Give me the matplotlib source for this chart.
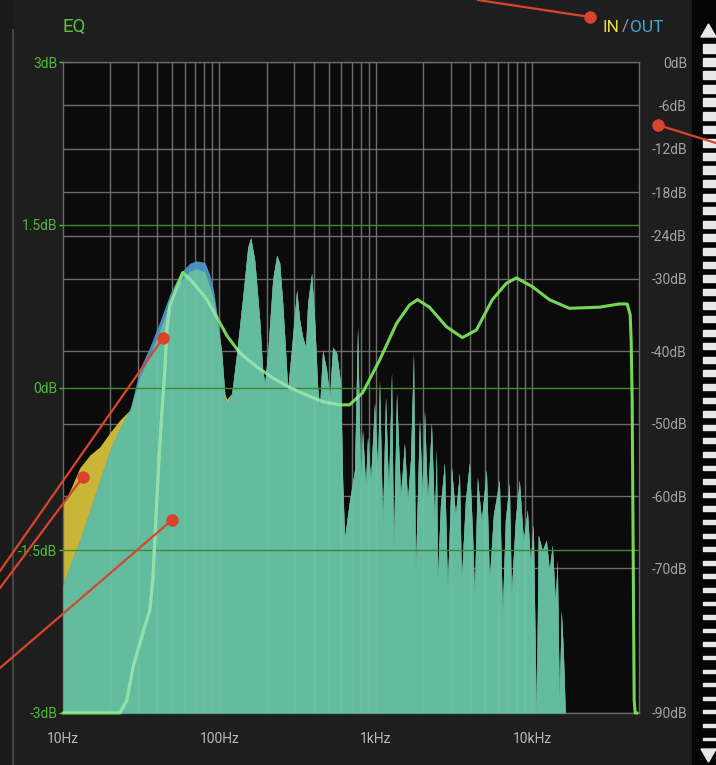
import matplotlib
matplotlib.use("Agg")
import matplotlib.pyplot as plt
import numpy as np
from matplotlib.lines import Line2D
from matplotlib.patches import Rectangle, Polygon
from matplotlib.ticker import NullLocator

# ---------------- data ----------------
spec_freq_hz = [10.0, 11.1, 12.8, 14.9, 17.2, 20.0, 23.1, 26.8, 31.0, 35.9,
                41.6, 48.2, 55.8, 64.7, 71.6, 80.6, 86.7, 92.0, 96.1, 103.4,
                108.1, 111.3, 119.8, 128.9, 140.8, 151.6, 158.4, 168.0, 180.8, 189.0,
                194.6, 203.4, 218.8, 232.1, 242.6, 253.5, 265.0, 272.9, 289.4, 311.5,
                325.5, 340.2, 355.5, 366.1, 388.2, 405.7, 424.0, 436.7, 456.3, 484.0,
                505.8, 528.5, 560.8, 594.7, 612.5, 630.6, 678.4, 730.1, 763.0, 797.4,
                821.2, 858.2, 884.0, 923.9, 979.7, 1024, 1054, 1102, 1152, 1203,
                1258, 1295, 1354, 1436, 1522, 1591, 1663, 1738, 1789, 1898,
                1983, 2043, 2135, 2263, 2366, 2436, 2473, 2584, 2741, 2864,
                3038, 3221, 3416, 3518, 3731, 3957, 4135, 4257, 4450, 4720,
                5080, 5309, 5630, 6150, 6427, 6716, 7123, 7334, 7780, 8251,
                8750, 9279, 9696, 10130, 10590, 10900, 11570, 12270, 12820, 13400,
                14000, 14420, 14850, 15290, 15750, 16220, 16500, 48000]

spec_in_db = [-61.2, -59.2, -56.1, -54.3, -53.2, -51.2, -49.5, -48.1, -43.6, -40.5,
              -37.1, -33.2, -30.4, -28.9, -28.6, -29.0, -31.1, -32.9, -35.3, -40.2,
              -45.8, -46.6, -45.8, -40.2, -32.5, -25.6, -24.3, -27.4, -35.7, -42.6,
              -44.4, -40.2, -30.1, -26.7, -27.8, -33.3, -40.2, -45.3, -39.4, -31.5,
              -35.7, -38.0, -39.4, -33.3, -29.2, -35.7, -44.9, -47.7, -39.8, -42.6,
              -46.3, -39.4, -40.2, -44.4, -57.8, -65.7, -60.6, -56.4, -36.6, -57.8,
              -50.9, -58.5, -51.8, -57.8, -47.1, -56.4, -44.0, -63.7, -46.3, -59.2,
              -43.0, -67.1, -45.8, -59.9, -52.7, -60.6, -55.0, -40.2, -70.2, -49.5,
              -59.9, -48.1, -60.6, -49.9, -63.3, -53.6, -71.6, -61.2, -55.4, -72.6,
              -56.0, -62.6, -56.8, -71.6, -60.6, -55.4, -64.7, -73.4, -57.4, -63.3,
              -56.4, -71.6, -62.6, -57.8, -76.2, -63.3, -58.2, -73.4, -63.3, -57.8,
              -66.1, -61.9, -68.9, -64.0, -90.0, -65.4, -67.5, -66.1, -70.2, -66.8,
              -74.4, -68.9, -88.2, -75.8, -81.3, -90.0, -90.0, -90.0]

# OUT differs from IN only below ~110 Hz; above that both traces coincide
spec_out_db = [-72.3, -69.5, -66.1, -61.9, -57.8, -53.6, -50.6, -48.1, -42.4, -39.4,
               -35.9, -32.1, -29.3, -27.8, -27.5, -27.7, -29.4, -31.8, -34.6, -40.2,
               -45.8, -47.3] + spec_in_db[22:]

eq_freq_hz = [10, 23.1, 25.6, 28.0, 32.4, 35.9, 37.5, 39.2, 41.0, 42.8,
              44.8, 46.1, 48.2, 52.6, 58.3, 67.5, 83.0, 96.1, 111.3, 134.8,
              173.0, 218.8, 281, 361, 456, 588, 678, 821, 1054, 1354,
              1638, 1843, 2198, 2822, 3570, 4385, 5548, 6815, 7896, 9986,
              12820, 17200, 26730, 35850, 40340, 42150, 42760, 43400, 44050, 44700,
              45370, 46700]
eq_gain_db = [-3.0, -3.0, -2.88, -2.58, -2.26, -2.05, -1.77, -1.22, -0.67, -0.24,
              0.16, 0.53, 0.76, 0.90, 1.06, 0.97, 0.81, 0.65, 0.48, 0.32,
              0.19, 0.09, 0.00, -0.07, -0.13, -0.16, -0.16, -0.05, 0.25, 0.59,
              0.76, 0.81, 0.74, 0.56, 0.46, 0.53, 0.81, 0.96, 1.01, 0.93,
              0.81, 0.73, 0.74, 0.77, 0.77, 0.67, 0.44, -0.12, -1.50, -2.88,
              -3.0, -3.0]

level_ticks_db = [0, -6, -12, -18, -24, -30, -40, -50, -60, -70, -90]
level_tick_labels = ["0dB", "-6dB", "-12dB", "-18dB", "-24dB", "-30dB",
                     "-40dB", "-50dB", "-60dB", "-70dB", "-90dB"]
eq_ticks_db = [3, 1.5, 0, -1.5, -3]
eq_tick_labels = ["3dB", "1.5dB", "0dB", "-1.5dB", "-3dB"]
freq_ticks_hz = [10, 100, 1000, 10000]
freq_tick_labels = ["10Hz", "100Hz", "1kHz", "10kHz"]
grid_freq_hz = [20, 30, 40, 50, 60, 70, 80, 90, 100,
                200, 300, 400, 500, 600, 700, 800, 900, 1000,
                2000, 3000, 4000, 5000, 6000, 7000, 8000, 9000, 10000]

# ---------------- style ----------------
plt.rcParams['font.family'] = ['Roboto', 'DejaVu Sans']
BG = '#1e1e1e'
PLOT_BG = '#0b0b0b'
GRID = '#646464'
GREEN_LBL = '#4fb83a'
YELLOW = '#c9b636'
BLUE = '#4a8dbf'
TEAL = '#64bc9f'
EQ_LINE = '#7fe85c'
EQ_ON_FILL = '#92dfb2'
RED = '#d8452c'

W, H = 716, 765
fig = plt.figure(figsize=(W / 100, H / 100), dpi=100, facecolor=BG)

def fx(x):
    return x / W

def fy(y):
    return 1 - y / H

# decorations around the plot panel
fig.add_artist(Rectangle((0, 0), fx(13), 1, transform=fig.transFigure,
                         color='#1a1a1a', zorder=-5))
fig.add_artist(Line2D([fx(13), fx(13)], [fy(30), 0], transform=fig.transFigure,
                      color='#454545', lw=1.5, zorder=-4))
fig.add_artist(Rectangle((fx(692), 0), fx(W - 692), 1, transform=fig.transFigure,
                         color='#050505', zorder=-5))
seg_y = np.arange(44, 742, 13.6)
for i, yy in enumerate(seg_y):
    h = 8.5 - 6.0 * i / (len(seg_y) - 1)
    fig.add_artist(Rectangle((fx(703), fy(yy + h)), fx(W - 703), h / H,
                             transform=fig.transFigure, color='#e8e8e8', zorder=-3))
fig.add_artist(Polygon([[fx(701), fy(37)], [fx(716), fy(37)], [fx(708.5), fy(24)]],
                       closed=True, transform=fig.transFigure, color='#e8e8e8', zorder=-3))
fig.add_artist(Polygon([[fx(701), fy(749)], [fx(716), fy(749)], [fx(708.5), fy(762)]],
                       closed=True, transform=fig.transFigure, color='#e8e8e8', zorder=-3))

# main axes: level spectrum (right scale)
ax = fig.add_axes([fx(63), fy(713), (639 - 63) / W, (713 - 62) / H])
ax.set_facecolor(PLOT_BG)
ax.set_xscale('log')
ax.set_xlim(10, 48000)
ax.set_ylim(-90, 0)

for f in grid_freq_hz:
    ax.axvline(f, color=GRID, lw=1, zorder=1)
for lv in level_ticks_db:
    ax.axhline(lv, color='#6c6c6c', lw=1, zorder=1)

f_arr = np.array(spec_freq_hz)
in_arr = np.array(spec_in_db)
out_arr = np.array(spec_out_db)
ax.fill_between(f_arr, in_arr, -90, color=YELLOW, lw=0, zorder=2)
ax.fill_between(f_arr, out_arr, -90, color=BLUE, lw=0, zorder=3)
teal_fill = ax.fill_between(f_arr, np.minimum(in_arr, out_arr), -90, color=TEAL,
                            lw=0, zorder=4)
# faint grid visible through the fill
for f in grid_freq_hz:
    ax.axvline(f, color='white', lw=1, alpha=0.06, zorder=4.5)

ax.set_xticks(freq_ticks_hz, freq_tick_labels)
ax.xaxis.set_minor_locator(NullLocator())
ax.tick_params(axis='x', length=0, pad=14, labelcolor='#b8b8b8', labelsize=10)
for sp in ax.spines.values():
    sp.set_color('#6a6a6a')
    sp.set_linewidth(1)

# twin axes: EQ gain (left scale)
ax2 = ax.twinx()
ax2.set_ylim(-3, 3)
ax2.patch.set_visible(False)
for sp in ax2.spines.values():
    sp.set_visible(False)
for g in [1.5, 0, -1.5]:
    ax2.axhline(g, color='#3f8a2e', lw=1, zorder=1)
ax2.plot(eq_freq_hz, eq_gain_db, color=EQ_LINE, lw=2.2, alpha=0.92,
         solid_capstyle='round', clip_on=False, zorder=6)
# where the curve crosses the filled spectrum it appears as a pale mint line
mint, = ax2.plot(eq_freq_hz, eq_gain_db, color=EQ_ON_FILL, lw=2.2,
                 solid_capstyle='round', zorder=7)
mint.set_clip_path(teal_fill.get_paths()[0], ax.transData)

ax2.yaxis.tick_left()
ax2.yaxis.set_label_position('left')
ax2.set_yticks(eq_ticks_db, eq_tick_labels)
ax2.tick_params(axis='y', which='both', left=True, right=False, labelleft=True,
                labelright=False, length=3, width=1, color=GREEN_LBL, pad=1,
                labelcolor=GREEN_LBL, labelsize=10)

# level ticks on the right (set after twinx, which moves them)
ax.yaxis.tick_right()
ax.yaxis.set_label_position('right')
ax.set_yticks(level_ticks_db, level_tick_labels)
ax.tick_params(axis='y', which='both', left=False, right=True, labelleft=False,
               labelright=True, length=0, pad=34.5, labelcolor='#a3a3a3', labelsize=10)
for lbl in ax.get_yticklabels():
    lbl.set_ha('right')

# header texts
fig.text(fx(62), fy(27), "EQ", color='#5cc23e', fontsize=13.5, ha='left', va='center')
fig.text(fx(603), fy(27), "IN", color='#e4dc4a', fontsize=12.5, ha='left', va='center')
fig.text(fx(625), fy(27), "/", color='#9a9a9a', fontsize=12.5, ha='center', va='center')
fig.text(fx(630), fy(27), "OUT", color='#3fa8d2', fontsize=12.5, ha='left', va='center')

# red callout lines
callouts = [((478, 0), (590, 17)), ((716, 143), (658, 125)), ((0, 571), (163, 338)),
            ((0, 588), (83, 477)), ((0, 668), (172, 520))]
for (x0, y0), (x1, y1) in callouts:
    fig.add_artist(Line2D([fx(x0), fx(x1)], [fy(y0), fy(y1)], transform=fig.transFigure,
                          color=RED, lw=1.6, zorder=20))
    fig.add_artist(Line2D([fx(x1)], [fy(y1)], transform=fig.transFigure, marker='o',
                          markersize=8, color=RED, lw=0, zorder=21))

fig.savefig("out.png", dpi=100, facecolor=BG)
